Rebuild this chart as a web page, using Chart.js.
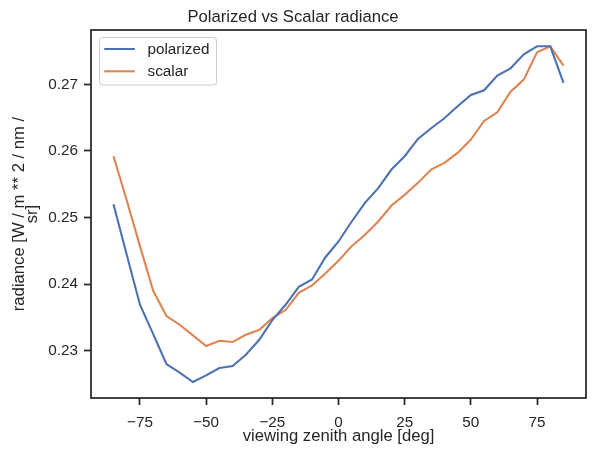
<!DOCTYPE html>
<html>
<head>
<meta charset="utf-8">
<script src="https://cdn.jsdelivr.net/npm/chart.js@4/dist/chart.umd.min.js"></script>
<style>
  html, body { margin: 0; padding: 0; background: #ffffff; }
  #wrap { width: 596px; height: 457px; }
</style>
</head>
<body>
<div id="wrap"><canvas id="c" width="596" height="457"></canvas></div>
<script>
const angles = [-85, -80, -75, -70, -65, -60, -55, -50, -45, -40, -35, -30, -25, -20, -15, -10, -5, 0,
                5, 10, 15, 20, 25, 30, 35, 40, 45, 50, 55, 60, 65, 70, 75, 80, 85];
const polarized = [0.2520, 0.2444, 0.2369, 0.2325, 0.2280, 0.2267, 0.2253, 0.2263, 0.2274, 0.2277, 0.2294, 0.2316,
                   0.2346, 0.2369, 0.2396, 0.2407, 0.2440, 0.2464,
                   0.2494, 0.2522, 0.2544, 0.2572, 0.2592, 0.2618, 0.2634, 0.2649, 0.2667, 0.2684, 0.2691, 0.2713,
                   0.2724, 0.2745, 0.2757, 0.2757, 0.2702];
const scalar = [0.2592, 0.2526, 0.2457, 0.2390, 0.2352, 0.2339, 0.2323, 0.2307, 0.2315, 0.2313, 0.2324, 0.2331,
                0.2349, 0.2361, 0.2387, 0.2398, 0.2416, 0.2435,
                0.2457, 0.2474, 0.2494, 0.2518, 0.2534, 0.2552, 0.2572, 0.2582, 0.2597, 0.2617, 0.2645, 0.2658,
                0.2689, 0.2707, 0.2748, 0.2757, 0.2728];
const xTicks = [-75, -50, -25, 0, 25, 50, 75];
const yTicks = [0.23, 0.24, 0.25, 0.26, 0.27];
const seriesNames = ['polarized', 'scalar'];
const titleText = 'Polarized vs Scalar radiance';
const xLabel = 'viewing zenith angle [deg]';
const yLabel = ['radiance [W / m ** 2 / nm /', 'sr]'];

const FONT = '"Liberation Sans", Arial, sans-serif';
const INK = '#262626';
const colors = ['#4C72B0', '#DD8452'];

const framePlugin = {
  id: 'frame',
  afterDatasetsDraw(chart) {
    const a = chart.chartArea, ctx = chart.ctx;
    ctx.save();
    ctx.strokeStyle = INK;
    ctx.lineWidth = 1.74;
    ctx.strokeRect(a.left, a.top, a.right - a.left, a.bottom - a.top);
    ctx.restore();
  }
};

const legendPlugin = {
  id: 'mplLegend',
  afterDraw(chart) {
    const ctx = chart.ctx, a = chart.chartArea;
    const x0 = a.left + 8.5, y0 = a.top + 7.5, w = 117, h = 47.5, r = 3;
    ctx.save();
    ctx.beginPath();
    ctx.moveTo(x0 + r, y0);
    ctx.lineTo(x0 + w - r, y0);
    ctx.quadraticCurveTo(x0 + w, y0, x0 + w, y0 + r);
    ctx.lineTo(x0 + w, y0 + h - r);
    ctx.quadraticCurveTo(x0 + w, y0 + h, x0 + w - r, y0 + h);
    ctx.lineTo(x0 + r, y0 + h);
    ctx.quadraticCurveTo(x0, y0 + h, x0, y0 + h - r);
    ctx.lineTo(x0, y0 + r);
    ctx.quadraticCurveTo(x0, y0, x0 + r, y0);
    ctx.closePath();
    ctx.fillStyle = 'rgba(255,255,255,0.8)';
    ctx.fill();
    ctx.strokeStyle = '#cccccc';
    ctx.lineWidth = 1;
    ctx.stroke();
    ctx.font = '15.28px ' + FONT;
    ctx.textBaseline = 'middle';
    ctx.textAlign = 'left';
    chart.data.datasets.forEach((ds, i) => {
      const yy = y0 + 11.5 + i * 22.3;
      ctx.strokeStyle = ds.borderColor;
      ctx.lineWidth = 2.08;
      ctx.beginPath();
      ctx.moveTo(x0 + 4.7, yy);
      ctx.lineTo(x0 + 35.3, yy);
      ctx.stroke();
      ctx.fillStyle = INK;
      ctx.fillText(ds.label, x0 + 48, yy + 0.5);
    });
    ctx.restore();
  }
};

const mk = (vals) => angles.map((a, i) => ({ x: a, y: vals[i] }));

new Chart(document.getElementById('c'), {
  type: 'line',
  data: {
    datasets: [
      { label: seriesNames[0], data: mk(polarized), borderColor: colors[0], backgroundColor: colors[0],
        borderWidth: 2.08, pointRadius: 0, tension: 0, fill: false },
      { label: seriesNames[1], data: mk(scalar), borderColor: colors[1], backgroundColor: colors[1],
        borderWidth: 2.08, pointRadius: 0, tension: 0, fill: false }
    ]
  },
  options: {
    responsive: false,
    animation: false,
    layout: { padding: { left: 0, right: 10, top: 0, bottom: 0 } },
    plugins: {
      legend: { display: false },
      tooltip: { enabled: false },
      title: {
        display: true,
        text: titleText,
        color: INK,
        font: { family: FONT, size: 16.67, weight: 'normal', lineHeight: 1.2 },
        padding: { top: 7, bottom: 3 }
      }
    },
    scales: {
      x: {
        type: 'linear',
        min: -93.5,
        max: 93.5,
        afterBuildTicks: (s) => { s.ticks = xTicks.map(v => ({ value: v })); },
        afterFit: (s) => { s.height = 59; },
        border: { display: false },
        grid: { display: true, drawOnChartArea: false, drawTicks: true, tickLength: 7,
                tickWidth: 1.74, tickColor: INK },
        ticks: {
          color: INK, padding: 9, maxRotation: 0,
          font: { family: FONT, size: 15.28, lineHeight: 1.2 },
          callback: (v) => String(v).replace('-', '\u2212')
        },
        title: {
          display: true, text: xLabel, color: INK,
          font: { family: FONT, size: 16.67, lineHeight: 1 },
          padding: { top: 0, bottom: 12.5 }
        }
      },
      y: {
        type: 'linear',
        min: 0.2229,
        max: 0.27815,
        afterBuildTicks: (s) => { s.ticks = yTicks.map(v => ({ value: v })); },
        afterFit: (s) => { s.width = 91; },
        border: { display: false },
        grid: { display: true, drawOnChartArea: false, drawTicks: true, tickLength: 7,
                tickWidth: 1.74, tickColor: INK },
        ticks: {
          color: INK, padding: 6,
          font: { family: FONT, size: 15.28, lineHeight: 1.2 },
          callback: (v) => Number(v).toFixed(2)
        },
        title: {
          display: true, text: yLabel, color: INK,
          font: { family: FONT, size: 16.67, lineHeight: 0.8 },
          padding: { top: 12.5, bottom: 0 }
        }
      }
    }
  },
  plugins: [framePlugin, legendPlugin]
});
</script>
</body>
</html>
